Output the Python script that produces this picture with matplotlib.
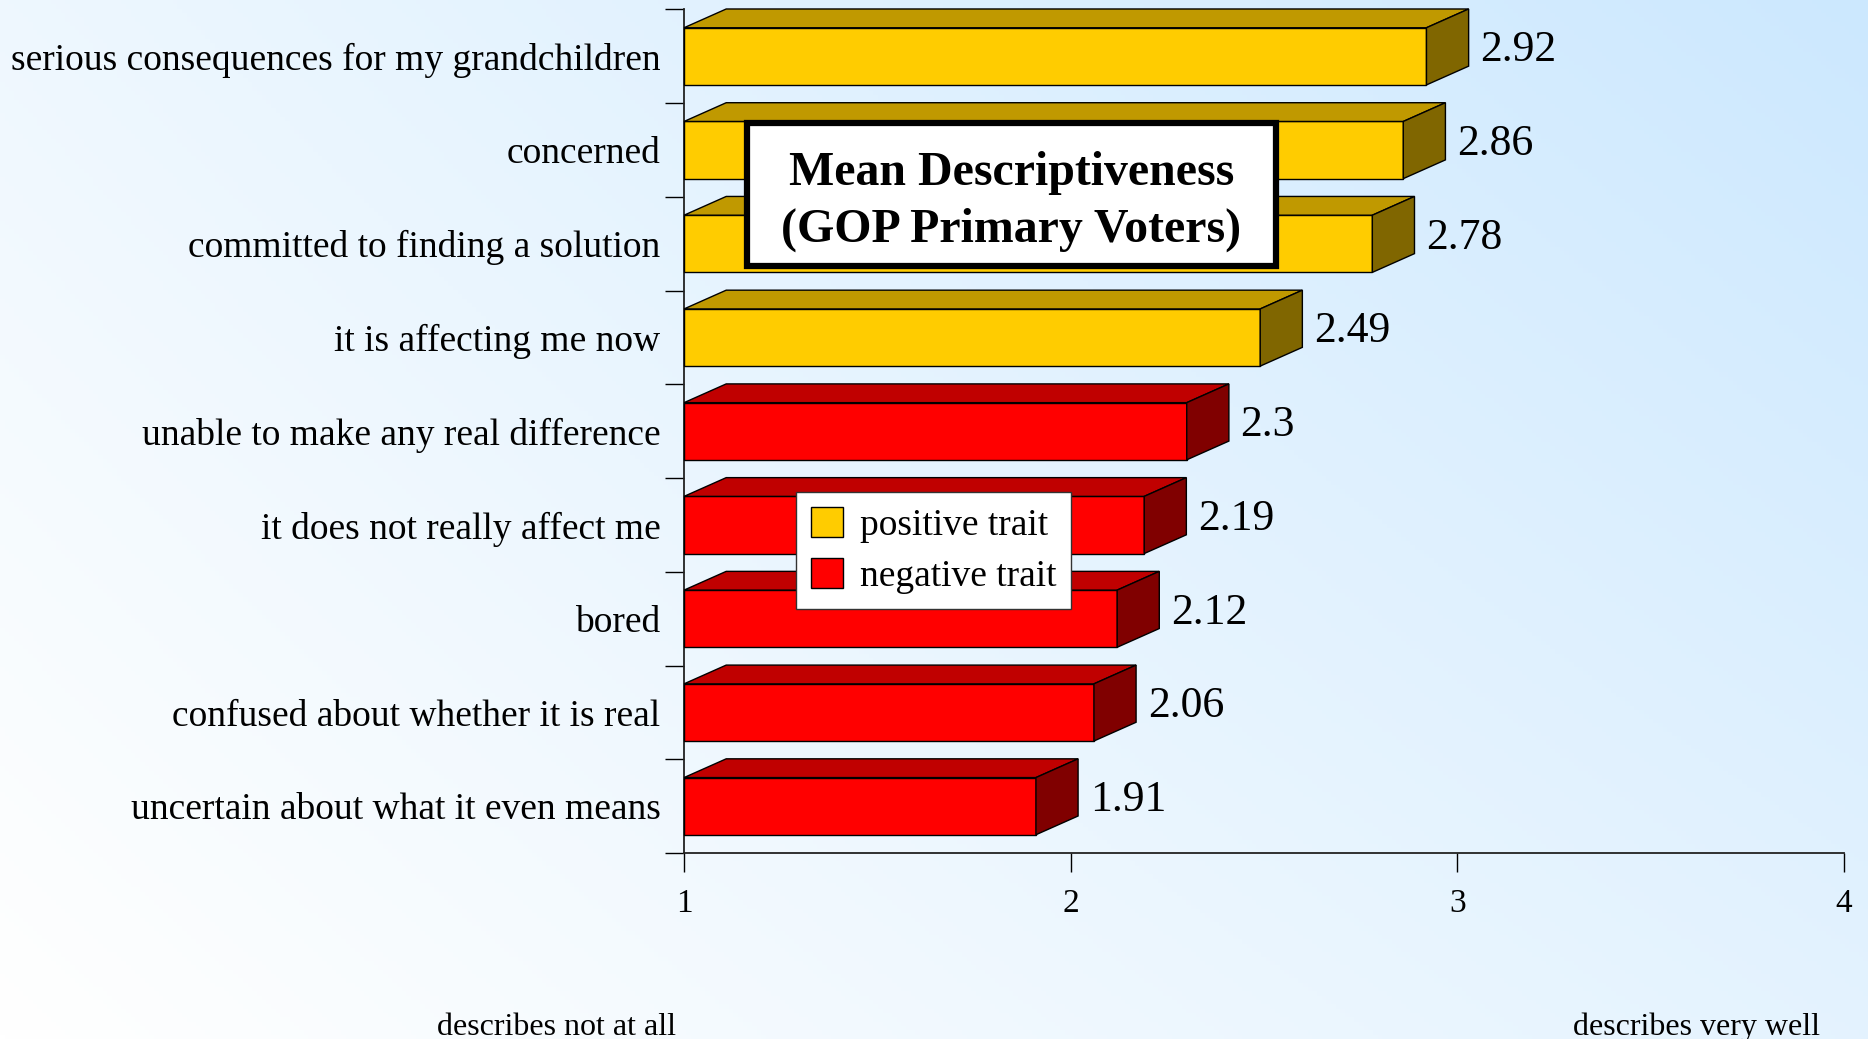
import numpy as np
import matplotlib
matplotlib.use("Agg")
import matplotlib.pyplot as plt
from matplotlib.patches import Polygon, Patch, Rectangle

plt.rcParams['font.family'] = ['Liberation Serif', 'DejaVu Serif']

traits = ['serious consequences for my grandchildren', 'concerned',
          'committed to finding a solution', 'it is affecting me now',
          'unable to make any real difference', 'it does not really affect me',
          'bored', 'confused about whether it is real',
          'uncertain about what it even means']
means = [2.92, 2.86, 2.78, 2.49, 2.3, 2.19, 2.12, 2.06, 1.91]
value_labels = ['2.92', '2.86', '2.78', '2.49', '2.3', '2.19', '2.12', '2.06', '1.91']
kind = ['positive', 'positive', 'positive', 'positive',
        'negative', 'negative', 'negative', 'negative', 'negative']

face = {'positive': '#FFCC00', 'negative': '#FF0000'}
top = {'positive': '#C09900', 'negative': '#C00000'}
side = {'positive': '#806600', 'negative': '#800000'}

fig = plt.figure(figsize=(18.68, 10.39), dpi=100)

# background gradient, white bottom-left -> light blue top-right
bg = fig.add_axes([0, 0, 1, 1], zorder=-10)
gx, gy = np.meshgrid(np.linspace(0, 1, 400), np.linspace(1, 0, 240))
t = np.clip(0.53 * gx + 0.33 * gy + 0.14 * gx * gy, 0, 1)[..., None]
c0 = np.array([1.0, 1.0, 1.0])
c1 = np.array([0xCC, 0xE8, 0xFE]) / 255
bg.imshow(c0 + (c1 - c0) * t, aspect='auto', extent=[0, 1, 0, 1])
bg.axis('off')

ax = fig.add_axes([0.3662, 0.179, 0.6210, 0.8119])
ax.set_facecolor('none')
ax.set_xlim(1, 4)
ax.set_ylim(8.5, -0.5)

h = 0.305   # half height of front face
dx = 0.109  # depth in x (data units)
dy = 0.20   # depth in y (data units)
y = np.arange(len(traits))

for i, (v, k) in enumerate(zip(means, kind)):
    ax.barh(i, v - 1, left=1, height=2 * h, color=face[k], edgecolor='black',
            linewidth=1.0, zorder=3, clip_on=False)
    ax.add_patch(Polygon([(1, i - h), (1 + dx, i - h - dy), (v + dx, i - h - dy), (v, i - h)],
                         closed=True, facecolor=top[k], edgecolor='black', linewidth=1.0,
                         zorder=3, clip_on=False))
    ax.add_patch(Polygon([(v, i - h), (v + dx, i - h - dy), (v + dx, i + h - dy), (v, i + h)],
                         closed=True, facecolor=side[k], edgecolor='black', linewidth=1.0,
                         zorder=3, clip_on=False))
    ax.text(v + dx + 0.03, i - dy / 2 + 0.035, value_labels[i], fontsize=31.5, va='center',
            ha='left', zorder=4)

ax.set_yticks(y)
ax.set_yticklabels(traits, fontsize=27)
ax.tick_params(axis='y', which='major', length=0, pad=17)
ax.set_yticks(np.arange(-0.5, 9, 1), minor=True)
ax.tick_params(axis='y', which='minor', length=13.5, width=1, direction='out')
ax.set_xticks([1, 2, 3, 4])
ax.set_xticklabels(['1', '2', '3', '4'], fontsize=24)
ax.tick_params(axis='x', length=13.5, width=1, direction='out', pad=12)

for s in ['top', 'right']:
    ax.spines[s].set_visible(False)
for s in ['left', 'bottom']:
    ax.spines[s].set_linewidth(1.3)
    ax.spines[s].set_color('#222222')

# title box
ax.add_patch(Rectangle((0.0543, 0.6959), 0.456, 0.1695, transform=ax.transAxes,
                       facecolor='white', edgecolor='black', linewidth=4.5, zorder=6))
ax.text(0.2823, 0.7725, 'Mean Descriptiveness\n(GOP Primary Voters)', transform=ax.transAxes,
        ha='center', va='center', fontsize=34.5, fontweight='bold', linespacing=1.35, zorder=7)

handles = [Patch(facecolor=face['positive'], edgecolor='black', label='positive trait'),
           Patch(facecolor=face['negative'], edgecolor='black', label='negative trait')]
leg = ax.legend(handles=handles, loc='upper left', bbox_to_anchor=(0.0966, 0.428),
                fontsize=27, frameon=True, fancybox=False, framealpha=1,
                handlelength=0.85, handleheight=0.85, handletextpad=0.45,
                labelspacing=0.4, borderpad=0.4, borderaxespad=0)
leg.get_frame().set_edgecolor('#333333')
leg.get_frame().set_linewidth(1.0)
leg.set_zorder(8)

fig.text(0.298, 0.004, 'describes not at all', ha='center', va='baseline', fontsize=23)
fig.text(0.908, 0.004, 'describes very well', ha='center', va='baseline', fontsize=23)

fig.savefig('out.png', dpi=100)
